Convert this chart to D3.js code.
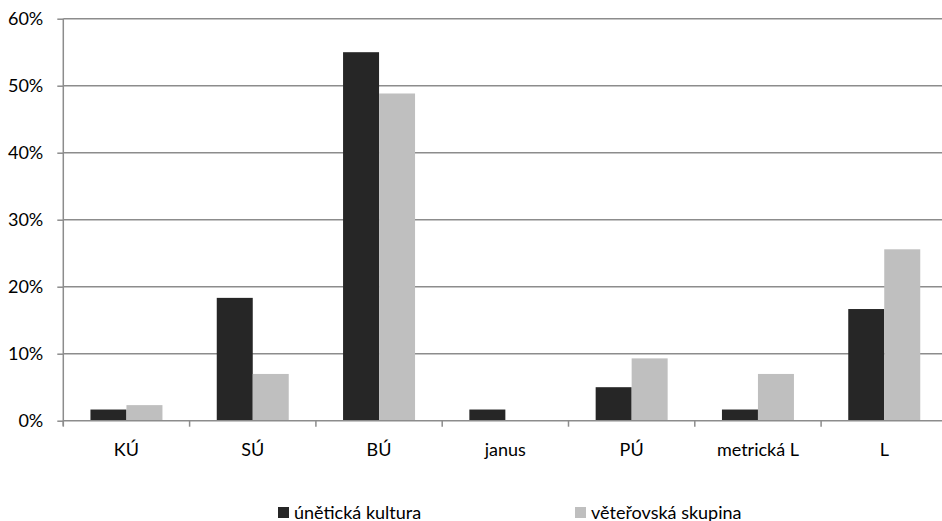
<!DOCTYPE html>
<html>
<head>
<meta charset="utf-8">
<script src="https://cdn.jsdelivr.net/npm/d3@7"></script>
<style>
  html, body { margin: 0; padding: 0; background: #fff; }
  svg { display: block; }
  text { font-family: Lato, "Open Sans", sans-serif; fill: #000; }
</style>
</head>
<body>
<svg id="chart" width="942" height="521"></svg>
<script>
// Categories along the x axis
const categories = ["KÚ", "SÚ", "BÚ", "janus", "PÚ", "metrická L", "L"];
// Series names (legend order)
const seriesNames = ["únětická kultura", "věteřovská skupina"];
// Share of finds per category (fractions)
const uneticka = [1/60, 11/60, 33/60, 1/60, 3/60, 1/60, 10/60];
const veterovska = [1/43, 3/43, 21/43, 0, 4/43, 3/43, 11/43];
// Y axis tick values
const yTicks = [0, 0.1, 0.2, 0.3, 0.4, 0.5, 0.6];

const seriesColors = ["#262626", "#bfbfbf"];
const seriesValues = [uneticka, veterovska];

const svg = d3.select("#chart");
const W = 942;
const plotLeft = 63.3, plotTop = 18.7, plotBottom = 420.7;
const step = 126.3;
const fontSize = "18px";

const x0 = d3.scaleBand()
  .domain(categories)
  .range([plotLeft, plotLeft + step * categories.length])
  .padding(0);

const gap = step * 0.215;
const x1 = d3.scaleBand()
  .domain(seriesNames)
  .range([gap, x0.bandwidth() - gap])
  .padding(0);

const y = d3.scaleLinear().domain([0, 0.6]).range([plotBottom, plotTop]);

const gridColor = "#8c8c8c";

// Horizontal gridlines
svg.append("g")
  .selectAll("line")
  .data(yTicks.filter(d => d > 0))
  .join("line")
  .attr("x1", plotLeft)
  .attr("x2", W)
  .attr("y1", d => y(d))
  .attr("y2", d => y(d))
  .attr("stroke", gridColor)
  .attr("stroke-width", 1.5);

// Bars
const groups = svg.append("g")
  .selectAll("g")
  .data(categories)
  .join("g")
  .attr("transform", d => `translate(${x0(d)},0)`);

groups.selectAll("rect")
  .data((c, i) => seriesNames.map((s, k) => ({ s, k, v: seriesValues[k][i] })))
  .join("rect")
  .attr("x", d => x1(d.s))
  .attr("width", x1.bandwidth())
  .attr("y", d => y(d.v))
  .attr("height", d => plotBottom - y(d.v))
  .attr("fill", d => seriesColors[d.k]);

// Y axis
const yAxis = d3.axisLeft(y)
  .tickValues(yTicks)
  .tickSize(6)
  .tickPadding(14)
  .tickFormat(d3.format(".0%"));

const gy = svg.append("g")
  .attr("transform", `translate(${plotLeft},0)`)
  .call(yAxis);
gy.select(".domain").attr("stroke", gridColor).attr("stroke-width", 1.5)
  .attr("d", `M0,${plotTop}V${plotBottom + 5}`);
gy.selectAll(".tick line").attr("stroke", gridColor).attr("stroke-width", 1.5);
gy.selectAll(".tick text")
  .style("font-family", "Lato, sans-serif")
  .style("font-size", fontSize)
  .attr("fill", "#000");

// X axis baseline with boundary ticks
const boundaries = d3.range(categories.length + 1).map(i => plotLeft + i * step);
svg.append("line")
  .attr("x1", plotLeft).attr("x2", W)
  .attr("y1", plotBottom).attr("y2", plotBottom)
  .attr("stroke", gridColor).attr("stroke-width", 1.5);
svg.append("g")
  .selectAll("line")
  .data(boundaries)
  .join("line")
  .attr("x1", d => d).attr("x2", d => d)
  .attr("y1", plotBottom).attr("y2", plotBottom + 6)
  .attr("stroke", gridColor).attr("stroke-width", 1.5);

// Category labels
svg.append("g")
  .selectAll("text")
  .data(categories)
  .join("text")
  .attr("x", d => x0(d) + x0.bandwidth() / 2)
  .attr("y", 455.5)
  .attr("text-anchor", "middle")
  .style("font-size", fontSize)
  .text(d => d);

// Legend
const legendX = [278, 575];
const legend = svg.append("g")
  .selectAll("g")
  .data(seriesNames)
  .join("g")
  .attr("transform", (d, i) => `translate(${legendX[i]},507)`);
legend.append("rect")
  .attr("width", 11).attr("height", 11)
  .attr("fill", (d, i) => seriesColors[i]);
legend.append("text")
  .attr("x", 16).attr("y", 11.5)
  .style("font-size", fontSize)
  .text(d => d);
</script>
</body>
</html>
